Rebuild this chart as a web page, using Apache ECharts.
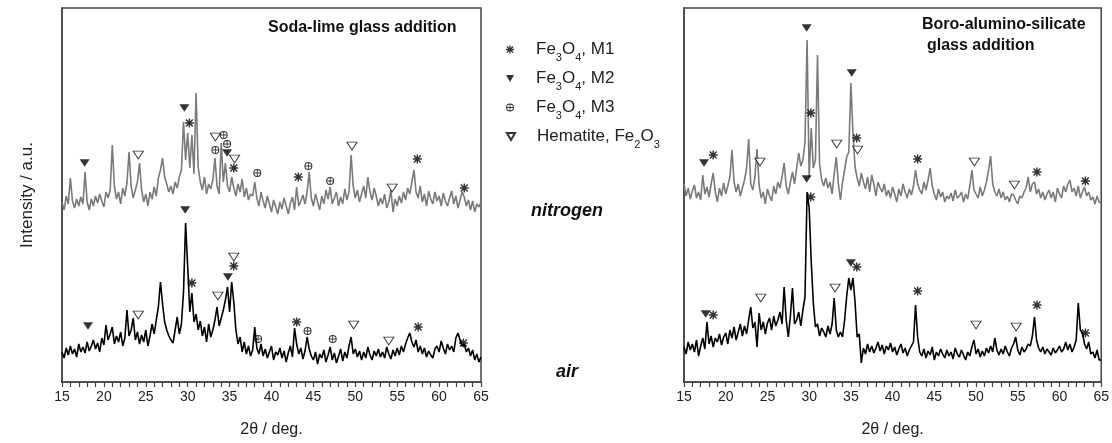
<!DOCTYPE html>
<html>
<head>
<meta charset="utf-8">
<script src="https://cdn.jsdelivr.net/npm/echarts@6.0.0/dist/echarts.min.js"></script>
<style>
  html, body { margin: 0; padding: 0; background: #fff; }
  #main { width: 1112px; height: 443px; }
</style>
</head>
<body>
<div id="main"></div>
<script>
// 2theta grid: 15 .. 65 deg, step 0.25
var twoThetaStart = 15, twoThetaStep = 0.25;

// heights (a.u., traces already offset)
var sodaNitrogen = [
  180,172,186,178, 204,181,174,183, 176,185,178,210, 180,172,183,176, 186,179,188,181,
  175,190,184,192, 237,196,183,190, 178,194,186,199, 230,196,184,192, 200,219,192,180,
  188,176,190,183, 195,186,204,212, 224,205,198,190, 196,188,200,194, 205,212,260,222,
  249,214,247,208, 289,215,200,192, 205,188,198,193, 202,224,196,188, 239,200,219,196,
  190,205,194,186, 198,190,203,185, 194,182,188,186, 200,184,176,190, 181,174,186,178,
  170,182,175,168, 180,173,184,176, 168,179,185,172, 195,176,181,187, 178,190,210,184,
  176,188,180,172, 186,178,192,183, 195,178,184,190, 176,185,178,193, 182,190,227,196,
  184,192,180,188, 196,184,205,190, 182,194,186,176, 184,178,188,174, 180,192,170,183,
  176,186,179,190, 182,194,188,200, 212,190,184,196, 180,188,176,191, 183,178,190,181,
  186,176,189,181, 176,184,191,178, 186,174,182,190, 185,176,182,172, 181,170,178,175,
  180
];
var sodaAir = [
  30,24,34,27, 36,28,33,25, 38,30,35,29, 40,31,36,42, 33,39,30,44,
  37,57,42,48, 55,38,46,40, 50,36,44,72, 46,52,64,42, 50,38,47,40,
  52,36,46,58, 48,62,75,100, 78,60,52,46, 42,39,52,65, 48,58,90,159,
  115,70,89,60, 68,52,61,46, 55,40,58,45, 52,62,75,56, 64,72,82,95,
  70,100,80,52, 38,45,30,40, 28,36,26,32, 55,34,28,38, 26,33,24,30,
  36,22,30,27, 34,24,31,20, 29,36,25,54, 38,28,34,23, 31,45,33,26,
  22,30,18,28, 24,32,20,27, 35,22,29,19, 26,33,21,30, 24,36,45,28,
  33,25,31,22, 30,24,35,27, 22,31,26,33, 25,30,24,35, 28,23,32,26,
  34,27,36,30, 38,44,49,40, 35,42,30,36, 28,34,25,31, 27,24,33,36,
  30,41,34,28, 38,32,36,30, 44,49,42,36, 38,30,34,26, 32,22,28,20,
  25
];
var boroNitrogen = [
  198,186,194,183, 191,197,184,190, 182,207,188,195, 185,198,209,190, 180,194,186,199,
  188,196,205,232, 200,190,198,186, 194,202,214,243, 198,192,205,233, 197,184,190,178,
  193,186,181,196, 188,200,194,205, 219,196,188,200, 210,198,214,229, 216,222,240,342,
  205,254,214,222, 327,218,202,196, 204,194,200,188, 208,225,198,182, 200,212,225,230,
  299,249,215,204, 196,209,200,193, 205,190,207,198, 186,200,194,190, 198,186,192,184,
  195,188,180,193, 186,198,190,184, 193,187,196,212, 198,192,188,200, 192,202,214,196,
  188,182,193,185, 190,180,186,183, 189,181,192,184, 186,190,180,188, 183,196,212,192,
  188,184,195,186, 192,200,212,226, 198,190,186,193, 184,190,182,186, 180,188,187,182,
  178,186,184,190, 194,205,190,198, 200,188,193,184, 190,182,188,192, 184,190,180,194,
  188,184,196,190, 198,202,190,194, 186,196,184,190, 195,186,190,182, 185,178,186,180,
  179
];
var boroAir = [
  35,28,40,32, 38,30,42,26, 36,44,33,60, 38,46,35,44, 40,48,37,45,
  49,38,52,44, 55,42,50,58, 46,56,48,62, 75,54,60,35, 69,52,60,48,
  59,64,52,66, 56,62,70,58, 95,62,45,66, 94,58,62,70, 56,72,85,190,
  174,120,79,55, 58,46,54,50, 45,56,48,58, 84,52,45,50, 45,62,86,104,
  92,104,80,45, 48,19,34,28, 38,30,36,29, 34,40,31,37, 28,36,32,39,
  30,35,27,33, 38,29,34,26, 32,36,40,77, 45,30,26,33, 24,31,27,35,
  22,30,26,33, 28,24,32,26, 30,23,34,28, 25,32,27,22, 30,26,35,42,
  28,33,25,31, 26,34,29,36, 30,44,32,27, 33,28,36,30, 26,34,38,45,
  32,27,35,30, 33,38,36,46, 65,42,34,30, 35,28,33,30, 27,34,29,32,
  36,30,33,40, 32,38,30,35, 42,79,52,49, 38,33,40,28, 30,24,32,22,
  22
];

// phase markers [2theta, height]
var sodaM1 = [[30.2,259],[35.5,214],[43.2,205],[57.4,223],[63.0,194],
              [30.5,99],[35.5,116],[43.0,60],[57.5,55],[62.9,39]];
var sodaM2 = [[17.7,219],[29.6,274],[34.7,229],
              [18.1,56],[29.7,172],[34.8,105]];
var sodaM3 = [[33.3,232],[34.3,247],[34.7,238],[38.3,209],[44.4,216],[47.0,201],
              [38.4,43],[44.3,51],[47.3,43]];
var sodaHem = [[24.1,227],[33.3,245],[35.6,223],[49.6,236],[54.4,194],
               [24.1,67],[33.6,86],[35.5,125],[49.8,57],[54.0,41]];
var boroM1 = [[18.5,227],[30.2,269],[35.7,244],[43.0,223],[57.3,210],[63.1,201],
              [18.5,67],[30.2,185],[35.7,115],[43.0,91],[57.3,77],[63.1,49]];
var boroM2 = [[17.4,219],[29.7,354],[35.1,309],
              [17.6,68],[29.7,203],[35.0,119]];
var boroM3 = [];
var boroHem = [[24.1,220],[33.3,238],[35.8,232],[49.8,220],[54.6,197],
               [24.2,84],[33.1,94],[50.0,57],[54.8,55]];

var phaseNames = ['M1', 'M2', 'M3', 'Hem'];
var phaseLabels = {
  M1: '{g|}{n|Fe}{s|3}{n|O}{s|4}{n|, M1}',
  M2: '{g|}{n|Fe}{s|3}{n|O}{s|4}{n|, M2}',
  M3: '{g|}{n|Fe}{s|3}{n|O}{s|4}{n|, M3}',
  Hem: '{g|}{n|Hematite, Fe}{s|2}{n|O}{s|3}'
};

var asterisk = 'path://M0 4.2H10V5.8H0Z M4.2 0H5.8V10H4.2Z M0.6 1.8L1.8 0.6L9.4 8.2L8.2 9.4Z M8.2 0.6L9.4 1.8L1.8 9.4L0.6 8.2Z';
var oplus = 'path://M5 0A5 5 0 1 1 5 10A5 5 0 1 1 5 0Z M5 1.2A3.8 3.8 0 1 0 5 8.8A3.8 3.8 0 1 0 5 1.2Z M0.6 4.5H9.4V5.5H0.6Z M4.5 0.6H5.5V9.4H4.5Z';
var downTri = 'path://M0 0L10 0L5 8.6Z';

function toPoints(arr) {
  return arr.map(function (v, i) { return [twoThetaStart + i * twoThetaStep, v]; });
}

var chart = echarts.init(document.getElementById('main'));

var font = 'Liberation Sans, Arial, sans-serif';

function xAxisFor(grid) {
  return {
    gridIndex: grid, type: 'value', min: 15, max: 65, interval: 5,
    name: '2\u03b8 / deg.', nameLocation: 'middle', nameGap: 40,
    nameTextStyle: { fontSize: 16, color: '#222', fontFamily: font },
    axisLine: { lineStyle: { color: '#444', width: 1.5 } },
    axisTick: { inside: false, length: 5, lineStyle: { color: '#444', width: 1.2 } },
    minorTick: { show: true, splitNumber: 5, length: 5, lineStyle: { color: '#444', width: 1.2 } },
    axisLabel: { fontSize: 14, color: '#222', fontFamily: font, margin: 8 },
    splitLine: { show: false }
  };
}
function yAxisFor(grid, name) {
  return {
    gridIndex: grid, type: 'value', min: 0, max: 374,
    name: name, nameLocation: 'middle', nameGap: 26,
    nameTextStyle: { fontSize: 17, color: '#222', fontFamily: font },
    axisLine: { show: true, lineStyle: { color: '#444', width: 1.5 } },
    axisTick: { show: false }, axisLabel: { show: false }, splitLine: { show: false }
  };
}

function trace(arr, grid, color) {
  return {
    type: 'line', xAxisIndex: grid, yAxisIndex: grid, data: toPoints(arr),
    showSymbol: false, silent: true, lineStyle: { color: color, width: 1.6 }
  };
}

var markerStyle = {
  M1: { symbol: asterisk, symbolSize: 9, itemStyle: { color: '#000' } },
  M2: { symbol: downTri, symbolSize: [10, 9], itemStyle: { color: '#000' } },
  M3: { symbol: oplus, symbolSize: 8, itemStyle: { color: '#000' } },
  Hem: { symbol: downTri, symbolSize: [10, 9], itemStyle: { color: '#fff', borderColor: '#000', borderWidth: 1 } }
};
function markers(name, arr, grid) {
  var s = markerStyle[name];
  return {
    type: 'scatter', name: name, xAxisIndex: grid, yAxisIndex: grid, data: arr,
    symbol: s.symbol, symbolSize: s.symbolSize, symbolKeepAspect: true,
    itemStyle: s.itemStyle, silent: true, z: 5
  };
}

var legendTops = [41, 70, 99, 128];
var legends = phaseNames.map(function (name, k) {
  return {
    data: [name], orient: 'vertical', left: 506, top: legendTops[k], padding: 0,
    itemWidth: 8, itemHeight: 8, selectedMode: false,
    formatter: function (n) { return phaseLabels[n]; },
    textStyle: {
      color: '#222', fontFamily: font, fontSize: 17,
      rich: {
        g: { width: 17 },
        n: { fontSize: 17, color: '#222', fontFamily: font },
        s: { fontSize: 11, color: '#222', fontFamily: font, padding: [16, 0, 0, 0] }
      }
    }
  };
});

chart.setOption({
  animation: false,
  backgroundColor: '#fff',
  grid: [
    { left: 62, right: 631, top: 8, bottom: 61, show: true, borderColor: '#444', borderWidth: 1.5 },
    { left: 684, right: 10, top: 8, bottom: 61, show: true, borderColor: '#444', borderWidth: 1.5 }
  ],
  xAxis: [xAxisFor(0), xAxisFor(1)],
  yAxis: [yAxisFor(0, 'Intensity / a.u.'), yAxisFor(1, '')],
  legend: legends,
  graphic: [
    { type: 'text', x: 268, y: 28, style: { text: 'Soda-lime glass addition', font: 'bold 16px ' + font, fill: '#111', textVerticalAlign: 'middle' } },
    { type: 'text', x: 922, y: 25, style: { text: 'Boro-alumino-silicate', font: 'bold 16px ' + font, fill: '#111', textVerticalAlign: 'middle' } },
    { type: 'text', x: 927, y: 46, style: { text: 'glass addition', font: 'bold 16px ' + font, fill: '#111', textVerticalAlign: 'middle' } },
    { type: 'text', x: 567, y: 211, style: { text: 'nitrogen', font: 'italic bold 18px ' + font, fill: '#111', textAlign: 'center', textVerticalAlign: 'middle' } },
    { type: 'text', x: 567, y: 372, style: { text: 'air', font: 'italic bold 18px ' + font, fill: '#111', textAlign: 'center', textVerticalAlign: 'middle' } }
  ],
  series: [
    trace(sodaNitrogen, 0, '#7a7a7a'),
    trace(sodaAir, 0, '#000'),
    trace(boroNitrogen, 1, '#7a7a7a'),
    trace(boroAir, 1, '#000'),
    markers('M1', sodaM1, 0), markers('M2', sodaM2, 0), markers('M3', sodaM3, 0), markers('Hem', sodaHem, 0),
    markers('M1', boroM1, 1), markers('M2', boroM2, 1), markers('M3', boroM3, 1), markers('Hem', boroHem, 1)
  ]
});
</script>
</body>
</html>
